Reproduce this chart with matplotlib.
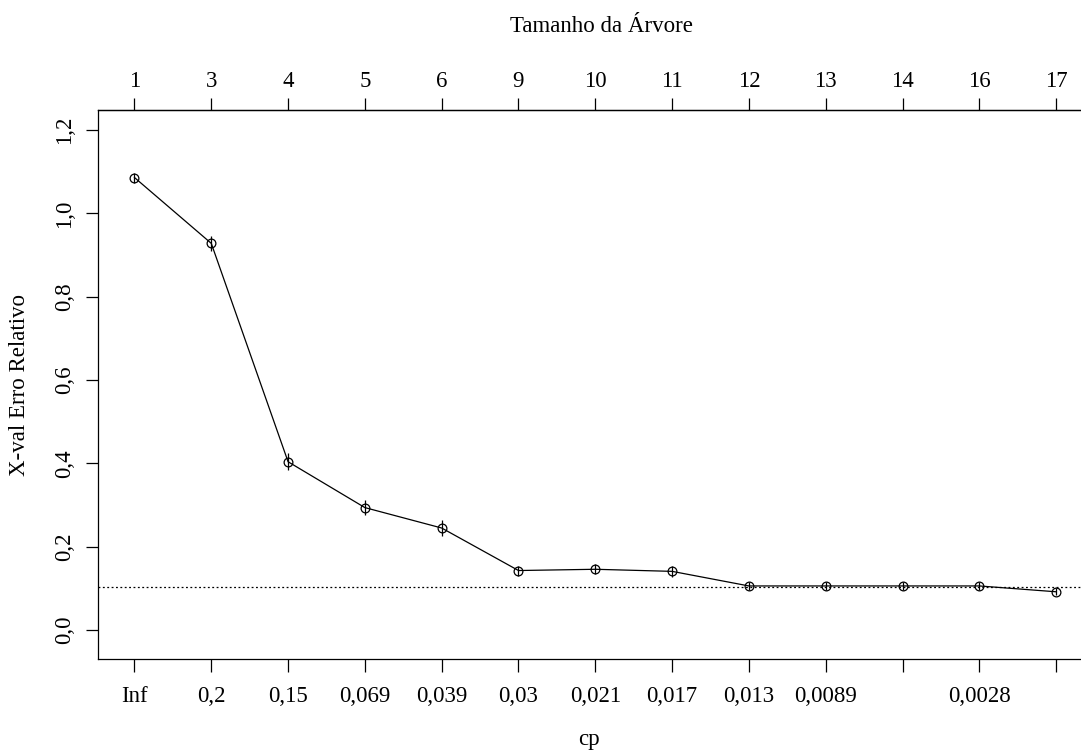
import matplotlib
matplotlib.use("Agg")
import matplotlib.pyplot as plt
import numpy as np

# dados (plotcp do rpart)
tamanho = ['1', '3', '4', '5', '6', '9', '10', '11', '12', '13', '14', '16', '17']
cp_labels = ['Inf', '0,2', '0,15', '0,069', '0,039', '0,03', '0,021', '0,017',
             '0,013', '0,0089', '', '0,0028', '']
xerror = [1.086, 0.928, 0.404, 0.294, 0.245, 0.143, 0.146, 0.141,
          0.106, 0.106, 0.106, 0.106, 0.092]
xstd = [0.012, 0.018, 0.020, 0.018, 0.019, 0.012, 0.012, 0.013,
        0.010, 0.010, 0.010, 0.010, 0.008]
limite = 0.104
yticks = [0.0, 0.2, 0.4, 0.6, 0.8, 1.0, 1.2]
ytick_labels = ['0,0', '0,2', '0,4', '0,6', '0,8', '1,0', '1,2']

plt.rcParams['font.family'] = ['Liberation Serif', 'DejaVu Serif']
fs = 16.5

W, H = 1081, 754
fig = plt.figure(figsize=(W / 100, H / 100), dpi=100)
# caixa do grafico em pixels: esquerda 97.6, direita 1093 (cortada), topo 110, base 659
left, right, top, bottom = 97.6, 1093.0, 110.0, 659.3
ax = fig.add_axes([left / W, 1 - bottom / H, (right - left) / W, (bottom - top) / H])

x = np.arange(1, len(xerror) + 1)
ax.plot(x, xerror, color='black', lw=0.9)
ax.plot(x, xerror, 'o', mfc='none', mec='black', ms=6.3, mew=0.9)
ax.vlines(x, np.array(xerror) - np.array(xstd), np.array(xerror) + np.array(xstd),
          color='black', lw=0.9)
ax.axhline(limite, color='black', lw=0.9, ls=(0, (1.5, 2)))

ax.set_xlim(0.52, 13.48)
ax.set_ylim(-0.070, 1.248)

ax.set_xticks(x)
ax.set_xticklabels(cp_labels, fontsize=fs)
ax.set_yticks(yticks)
ax.set_yticklabels(ytick_labels, fontsize=fs, rotation=90, va='center')
ax.tick_params(axis='x', direction='out', length=9, width=0.9, pad=10)
ax.tick_params(axis='y', direction='out', length=9, width=0.9, pad=7)

top_ax = ax.secondary_xaxis('top')
top_ax.set_xticks(x)
top_ax.set_xticklabels(tamanho, fontsize=fs)
top_ax.tick_params(direction='out', length=9, width=0.9, pad=4)

for s in list(ax.spines.values()) + list(top_ax.spines.values()):
    s.set_linewidth(0.9)

fig.text(0.5 * (left + right) / W + 0.006, 1 - 27 / H, 'Tamanho da Árvore',
         fontsize=fs, ha='center', va='center')
fig.text(0.5 * (left + right) / W - 0.006, 1 - 740 / H, 'cp',
         fontsize=fs, ha='center', va='center')
fig.text(20 / W, 1 - ((top + bottom) / 2) / H, 'X-val Erro Relativo',
         fontsize=fs, ha='center', va='center', rotation=90)

fig.savefig('out.png', dpi=100)
